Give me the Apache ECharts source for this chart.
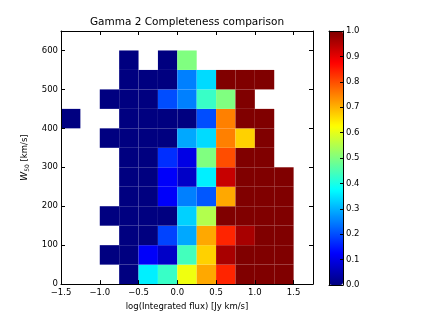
<!DOCTYPE html>
<html><head><meta charset="utf-8">
<script src="https://cdn.jsdelivr.net/npm/echarts@6/dist/echarts.min.js"></script>
<style>html,body{margin:0;padding:0;background:#fff}#c{width:421px;height:316px}</style>
</head><body><div id="c"></div>
<script>
// Bin left edges (log integrated flux) and bottom edges (W50, km/s)
const xEdges = [-1.5, -1.25, -1.0, -0.75, -0.5, -0.25, 0.0, 0.25, 0.5, 0.75, 1.0, 1.25, 1.5];
const yEdges = [0, 50, 100, 150, 200, 250, 300, 350, 400, 450, 500, 550, 600];
const binW = 0.25, binH = 50;
const xTicks = [-1.5, -1.0, -0.5, 0.0, 0.5, 1.0, 1.5];
const yTicks = [0, 100, 200, 300, 400, 500, 600];
const cbTicks = [0.0, 0.1, 0.2, 0.3, 0.4, 0.5, 0.6, 0.7, 0.8, 0.9, 1.0];
const N = null;
// Completeness per row (W50 bin), one value per flux bin
const w0   = [N, N, N, 0, 0.36, 0.43, 0.61, 0.71, 0.84, 1, 1, 1, N];
const w50  = [N, N, 0, 0, 0.12, 0.07, 0.44, 0.67, 0.96, 1, 1, 1, N];
const w100 = [N, N, N, 0, 0, 0.19, 0.29, 0.71, 0.84, 0.96, 1, 1, N];
const w150 = [N, N, 0, 0, 0, 0, 0.33, 0.55, 1, 1, 1, 1, N];
const w200 = [N, N, N, 0, 0, 0.12, 0.25, 0.21, 0.71, 1, 1, 1, N];
const w250 = [N, N, N, 0, 0, 0.12, 0.07, 0.36, 0.93, 1, 1, 1, N];
const w300 = [N, N, N, 0, 0, 0.17, 0.1, 0.5, 0.8, 1, 1, N, N];
const w350 = [N, N, 0, 0, 0, 0, 0.29, 0.34, 0.75, 0.67, 1, N, N];
const w400 = [0, N, N, 0, 0, 0, 0, 0.2, 0.75, 1, 1, N, N];
const w450 = [N, N, 0, 0, 0, 0.2, 0.25, 0.43, 0.5, 1, N, N, N];
const w500 = [N, N, N, 0, 0, 0, 0.25, 0.34, 1, 1, 1, N, N];
const w550 = [N, N, N, 0, N, 0, 0.5, N, N, N, N, N, N];
const rows = [w0, w50, w100, w150, w200, w250, w300, w350, w400, w450, w500, w550];

const data = [];
rows.forEach((row, r) => row.forEach((v, c) => { if (v !== null) data.push([xEdges[c], yEdges[r], v]); }));

function clamp(v) { return Math.max(0, Math.min(1, v)); }
function jet(t) {
  const r = clamp(Math.min(4 * t - 1.5, -4 * t + 4.5));
  const g = clamp(Math.min(4 * t - 0.5, -4 * t + 3.5));
  const b = clamp(Math.min(4 * t + 0.5, -4 * t + 2.5));
  return 'rgb(' + Math.round(r * 255) + ',' + Math.round(g * 255) + ',' + Math.round(b * 255) + ')';
}
const jetColors = [];
for (let i = 0; i <= 64; i++) jetColors.push(jet(i / 64));

const F = 'DejaVu Sans';
const minus = s => s.replace('-', '\u2212');
const lbl = { fontFamily: F, fontSize: 8.5, color: '#000' };
const line = { show: true, onZero: false, lineStyle: { color: '#000', width: 1 } };
const tick = { show: true, inside: true, length: 4, lineStyle: { color: '#000', width: 1 } };

const chart = echarts.init(document.getElementById('c'), null, { renderer: 'canvas' });
chart.setOption({
  backgroundColor: '#fff',
  animation: false,
  title: {
    text: 'Gamma 2 Completeness comparison',
    left: 187, top: 17, textAlign: 'center', padding: 0,
    textStyle: { fontFamily: F, fontSize: 10.5, fontWeight: 'normal', color: '#000' }
  },
  grid: [
    { left: 61, top: 31, width: 252, height: 254 },
    { left: 329, top: 31, width: 14, height: 254 }
  ],
  xAxis: [
    { type: 'value', gridIndex: 0, position: 'bottom', min: -1.5, max: 1.75, interval: 0.5,
      axisLine: line, axisTick: tick, splitLine: { show: false },
      axisLabel: Object.assign({ margin: 4, showMaxLabel: false,
        formatter: v => xTicks.indexOf(v) >= 0 ? minus(v.toFixed(1)) : '' }, lbl),
      name: 'log(Integrated flux) [Jy km/s]', nameLocation: 'middle', nameGap: 12,
      nameTextStyle: lbl, z: 10 },
    { type: 'value', gridIndex: 0, position: 'top', min: -1.5, max: 1.75, interval: 0.5,
      axisLine: line, axisTick: tick, splitLine: { show: false }, axisLabel: { show: false }, z: 10 },
    { type: 'value', gridIndex: 1, position: 'bottom', min: 0, max: 1,
      axisLine: line, axisTick: { show: false }, splitLine: { show: false }, axisLabel: { show: false }, z: 10 },
    { type: 'value', gridIndex: 1, position: 'top', min: 0, max: 1,
      axisLine: line, axisTick: { show: false }, splitLine: { show: false }, axisLabel: { show: false }, z: 10 }
  ],
  yAxis: [
    { type: 'value', gridIndex: 0, position: 'left', min: 0, max: 650, interval: 100,
      axisLine: line, axisTick: tick, splitLine: { show: false },
      axisLabel: Object.assign({ margin: 3, showMaxLabel: false,
        formatter: v => yTicks.indexOf(v) >= 0 ? String(v) : '' }, lbl),
      name: '{i|W}{s|50} [km/s]', nameLocation: 'middle', nameGap: 22,
      nameTextStyle: Object.assign({ lineHeight: 13, rich: {
        i: { fontFamily: F, fontSize: 9, fontStyle: 'italic', color: '#000', lineHeight: 13, verticalAlign: 'middle' },
        s: { fontFamily: F, fontSize: 6, color: '#000', lineHeight: 13, verticalAlign: 'bottom' }
      } }, lbl), z: 10 },
    { type: 'value', gridIndex: 0, position: 'right', min: 0, max: 650, interval: 100,
      axisLine: line, axisTick: tick, splitLine: { show: false }, axisLabel: { show: false }, z: 10 },
    { type: 'value', gridIndex: 1, position: 'right', min: 0, max: 1, interval: 0.1,
      axisLine: line, axisTick: { show: true, inside: true, length: 3, lineStyle: { color: '#000' } },
      splitLine: { show: false },
      axisLabel: Object.assign({ margin: 3, formatter: v => v.toFixed(1) }, lbl), z: 10 },
    { type: 'value', gridIndex: 1, position: 'left', min: 0, max: 1, interval: 0.1,
      axisLine: line, axisTick: { show: false }, splitLine: { show: false }, axisLabel: { show: false }, z: 10 }
  ],
  visualMap: {
    type: 'continuous', min: 0, max: 1, dimension: 2, seriesIndex: 0,
    calculable: false, orient: 'vertical', left: 329, top: 31, padding: 0,
    itemWidth: 14, itemHeight: 254, text: null, showLabel: false,
    inRange: { color: jetColors }, z: 1
  },
  series: [{
    type: 'custom', xAxisIndex: 0, yAxisIndex: 0,
    encode: { x: 0, y: 1 },
    data: data,
    renderItem: function (params, api) {
      const x = api.value(0), y = api.value(1);
      const p0 = api.coord([x, y + binH]);
      const p1 = api.coord([x + binW, y]);
      return { type: 'rect',
        shape: { x: p0[0], y: p0[1], width: p1[0] - p0[0], height: p1[1] - p0[1] },
        style: { fill: api.visual('color'), stroke: null } };
    }
  }]
});
</script></body></html>
